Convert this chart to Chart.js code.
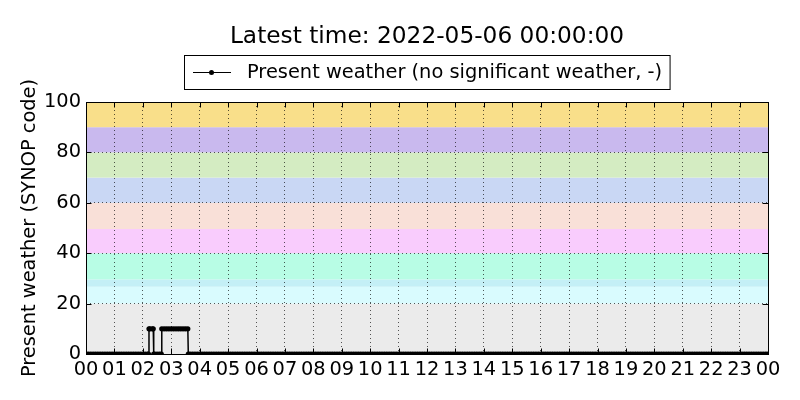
<!DOCTYPE html>
<html>
<head>
<meta charset="utf-8">
<script src="https://cdn.jsdelivr.net/npm/chart.js@4"></script>
<style>
  html, body { margin: 0; padding: 0; background: #ffffff; }
  #wrap { width: 800px; height: 400px; }
</style>
</head>
<body>
<div id="wrap"><canvas id="c" width="800" height="400"></canvas></div>
<script>
// ---- data ----
const chartTitle = "Latest time: 2022-05-06 00:00:00";
const seriesLabel = "Present weather (no significant weather, -)";
const yAxisTitle = "Present weather (SYNOP code)";

const hourLabels = ["00","01","02","03","04","05","06","07","08","09","10","11",
                    "12","13","14","15","16","17","18","19","20","21","22","23","00"];
const yTickValues = [0, 20, 40, 60, 80, 100];

const obsTimes = [
  "00:00","00:05","00:10","00:15","00:20","00:25","00:30","00:35","00:40","00:45","00:50","00:55",
  "01:00","01:05","01:10","01:15","01:20","01:25","01:30","01:35","01:40","01:45","01:50","01:55",
  "02:00","02:05","02:10","02:12","02:13","02:15","02:20","02:22","02:23","02:25","02:30","02:35","02:39","02:40","02:45","02:50","02:55",
  "03:00","03:05","03:10","03:15","03:20","03:25","03:30","03:35","03:36","03:40","03:45","03:50","03:55",
  "04:00","04:05","04:10","04:15","04:20","04:25","04:30","04:35","04:40","04:45","04:50","04:55",
  "05:00","05:05","05:10","05:15","05:20","05:25","05:30","05:35","05:40","05:45","05:50","05:55",
  "06:00","06:05","06:10","06:15","06:20","06:25","06:30","06:35","06:40","06:45","06:50","06:55",
  "07:00","07:05","07:10","07:15","07:20","07:25","07:30","07:35","07:40","07:45","07:50","07:55",
  "08:00","08:05","08:10","08:15","08:20","08:25","08:30","08:35","08:40","08:45","08:50","08:55",
  "09:00","09:05","09:10","09:15","09:20","09:25","09:30","09:35","09:40","09:45","09:50","09:55",
  "10:00","10:05","10:10","10:15","10:20","10:25","10:30","10:35","10:40","10:45","10:50","10:55",
  "11:00","11:05","11:10","11:15","11:20","11:25","11:30","11:35","11:40","11:45","11:50","11:55",
  "12:00","12:05","12:10","12:15","12:20","12:25","12:30","12:35","12:40","12:45","12:50","12:55",
  "13:00","13:05","13:10","13:15","13:20","13:25","13:30","13:35","13:40","13:45","13:50","13:55",
  "14:00","14:05","14:10","14:15","14:20","14:25","14:30","14:35","14:40","14:45","14:50","14:55",
  "15:00","15:05","15:10","15:15","15:20","15:25","15:30","15:35","15:40","15:45","15:50","15:55",
  "16:00","16:05","16:10","16:15","16:20","16:25","16:30","16:35","16:40","16:45","16:50","16:55",
  "17:00","17:05","17:10","17:15","17:20","17:25","17:30","17:35","17:40","17:45","17:50","17:55",
  "18:00","18:05","18:10","18:15","18:20","18:25","18:30","18:35","18:40","18:45","18:50","18:55",
  "19:00","19:05","19:10","19:15","19:20","19:25","19:30","19:35","19:40","19:45","19:50","19:55",
  "20:00","20:05","20:10","20:15","20:20","20:25","20:30","20:35","20:40","20:45","20:50","20:55",
  "21:00","21:05","21:10","21:15","21:20","21:25","21:30","21:35","21:40","21:45","21:50","21:55",
  "22:00","22:05","22:10","22:15","22:20","22:25","22:30","22:35","22:40","22:45","22:50","22:55",
  "23:00","23:05","23:10","23:15","23:20","23:25","23:30","23:35","23:40","23:45","23:50","23:55",
  "24:00"
];
const presentWeather = [
  0,0,0,0,0,0,0,0,0,0,0,0,
  0,0,0,0,0,0,0,0,0,0,0,0,
  0,0,0,0,10,10,10,10,0,0,0,0,0,10,10,10,10,
  10,10,10,10,10,10,10,10,0,0,0,0,0,
  0,0,0,0,0,0,0,0,0,0,0,0,
  0,0,0,0,0,0,0,0,0,0,0,0,
  0,0,0,0,0,0,0,0,0,0,0,0,
  0,0,0,0,0,0,0,0,0,0,0,0,
  0,0,0,0,0,0,0,0,0,0,0,0,
  0,0,0,0,0,0,0,0,0,0,0,0,
  0,0,0,0,0,0,0,0,0,0,0,0,
  0,0,0,0,0,0,0,0,0,0,0,0,
  0,0,0,0,0,0,0,0,0,0,0,0,
  0,0,0,0,0,0,0,0,0,0,0,0,
  0,0,0,0,0,0,0,0,0,0,0,0,
  0,0,0,0,0,0,0,0,0,0,0,0,
  0,0,0,0,0,0,0,0,0,0,0,0,
  0,0,0,0,0,0,0,0,0,0,0,0,
  0,0,0,0,0,0,0,0,0,0,0,0,
  0,0,0,0,0,0,0,0,0,0,0,0,
  0,0,0,0,0,0,0,0,0,0,0,0,
  0,0,0,0,0,0,0,0,0,0,0,0,
  0,0,0,0,0,0,0,0,0,0,0,0,
  0,0,0,0,0,0,0,0,0,0,0,0,
  0
];

// SYNOP code background bands
const bandLower = [0, 20, 26.7, 29.6, 40, 49.6, 60, 70, 80, 90];
const bandUpper = [20, 26.7, 29.6, 40, 49.6, 60, 70, 80, 90, 100];
const bandColors = ["#ebebeb","#d9fbfe","#c4eff6","#b8fde5","#f9ccfd",
                    "#f9e0d8","#c9d7f4","#d4ecc2","#c9b9ee","#f9df8a"];

// ---- build ----
function toHours(s) {
  const p = s.split(":");
  return parseInt(p[0], 10) + parseInt(p[1], 10) / 60;
}
const points = obsTimes.map((t, i) => ({ x: toHours(t), y: presentWeather[i] }));

const FONT = "DejaVu Sans";
const BASE = 19.4;
Chart.defaults.font.family = FONT;
Chart.defaults.color = "#000000";

const decorPlugin = {
  id: "decor",
  beforeDraw(chart) {
    const ctx = chart.ctx;
    const a = chart.chartArea;
    const y = chart.scales.y;
    ctx.save();
    for (let i = 0; i < bandColors.length; i++) {
      const top = y.getPixelForValue(bandUpper[i]);
      const bot = y.getPixelForValue(bandLower[i]);
      ctx.fillStyle = bandColors[i];
      ctx.fillRect(a.left, top, a.right - a.left, bot - top);
    }
    ctx.restore();
  },
  afterDraw(chart) {
    const ctx = chart.ctx;
    const a = chart.chartArea;
    const xs = chart.scales.x, ys = chart.scales.y;
    ctx.save();
    // frame
    ctx.strokeStyle = "#000";
    ctx.lineWidth = 1;
    ctx.strokeRect(Math.round(a.left) + 0.5, Math.round(a.top) + 0.5,
                   Math.round(a.right - a.left), Math.round(a.bottom - a.top));
    // inward ticks
    const tl = 5.5;
    ctx.beginPath();
    for (let h = 0; h < hourLabels.length; h++) {
      const px = Math.round(xs.getPixelForValue(h)) + 0.5;
      ctx.moveTo(px, a.top); ctx.lineTo(px, a.top + tl);
      ctx.moveTo(px, a.bottom); ctx.lineTo(px, a.bottom - tl);
    }
    for (const v of yTickValues) {
      const py = Math.round(ys.getPixelForValue(v)) + 0.5;
      ctx.moveTo(a.left, py); ctx.lineTo(a.left + tl, py);
      ctx.moveTo(a.right, py); ctx.lineTo(a.right - tl, py);
    }
    ctx.stroke();

    // title
    const cx = (a.left + a.right) / 2;
    ctx.fillStyle = "#000";
    ctx.textAlign = "center";
    ctx.textBaseline = "middle";
    ctx.font = (BASE * 1.2) + "px '" + FONT + "'";
    ctx.fillText(chartTitle, cx, 36.5);

    // legend
    ctx.font = BASE + "px '" + FONT + "'";
    const tw = ctx.measureText(seriesLabel).width;
    const boxW = 62.5 + tw + 8;
    const boxL = Math.round(cx - boxW / 2) + 0.5;
    const boxT = 55.5, boxH = 34;
    ctx.fillStyle = "#fff";
    ctx.fillRect(boxL, boxT, boxW, boxH);
    ctx.strokeStyle = "#000";
    ctx.lineWidth = 1;
    ctx.strokeRect(boxL, boxT, boxW, boxH);
    const ly = 72.5;
    ctx.beginPath();
    ctx.moveTo(boxL + 8.5, ly); ctx.lineTo(boxL + 46.5, ly);
    ctx.lineWidth = 1.2;
    ctx.stroke();
    ctx.beginPath();
    ctx.arc(boxL + 27, ly, 2.5, 0, Math.PI * 2);
    ctx.fillStyle = "#000";
    ctx.fill();
    ctx.textAlign = "left";
    ctx.textBaseline = "middle";
    ctx.fillText(seriesLabel, boxL + 62.5, ly);
    ctx.restore();
  }
};

new Chart(document.getElementById("c"), {
  type: "line",
  data: {
    datasets: [{
      label: seriesLabel,
      data: points,
      borderColor: "#000000",
      backgroundColor: "#000000",
      borderWidth: 1.5,
      pointRadius: 2.6,
      pointBorderWidth: 0,
      pointBackgroundColor: "#000000",
      pointHoverRadius: 2.6,
      tension: 0,
      fill: false,
      clip: 0
    }]
  },
  options: {
    responsive: false,
    animation: false,
    events: [],
    layout: { padding: { top: 102, right: 32, left: 0, bottom: 0 } },
    plugins: {
      legend: { display: false },
      title: { display: false },
      tooltip: { enabled: false }
    },
    scales: {
      x: {
        type: "linear",
        min: 0,
        max: 24,
        afterFit(scale) { scale.height = 46; },
        afterBuildTicks(scale) {
          scale.ticks = hourLabels.map((_, i) => ({ value: i }));
        },
        ticks: {
          autoSkip: false,
          maxRotation: 0,
          minRotation: 0,
          padding: 4,
          font: { size: BASE },
          color: "#000",
          callback: (v) => hourLabels[v]
        },
        grid: {
          color: "rgba(0,0,0,0.65)",
          lineWidth: 1,
          drawTicks: false
        },
        border: { display: false, dash: [1, 3] }
      },
      y: {
        type: "linear",
        min: 0,
        max: 100,
        afterFit(scale) { scale.width = 86; },
        afterBuildTicks(scale) {
          scale.ticks = yTickValues.map(v => ({ value: v }));
        },
        ticks: {
          padding: 5,
          font: { size: BASE },
          color: "#000",
          callback: (v) => String(v)
        },
        grid: {
          color: "rgba(0,0,0,0.65)",
          lineWidth: 1,
          drawTicks: false
        },
        border: { display: false, dash: [1, 3] },
        title: {
          display: true,
          text: yAxisTitle,
          font: { size: BASE },
          color: "#000",
          padding: { top: 18, bottom: 0 }
        }
      }
    }
  },
  plugins: [decorPlugin]
});
</script>
</body>
</html>
